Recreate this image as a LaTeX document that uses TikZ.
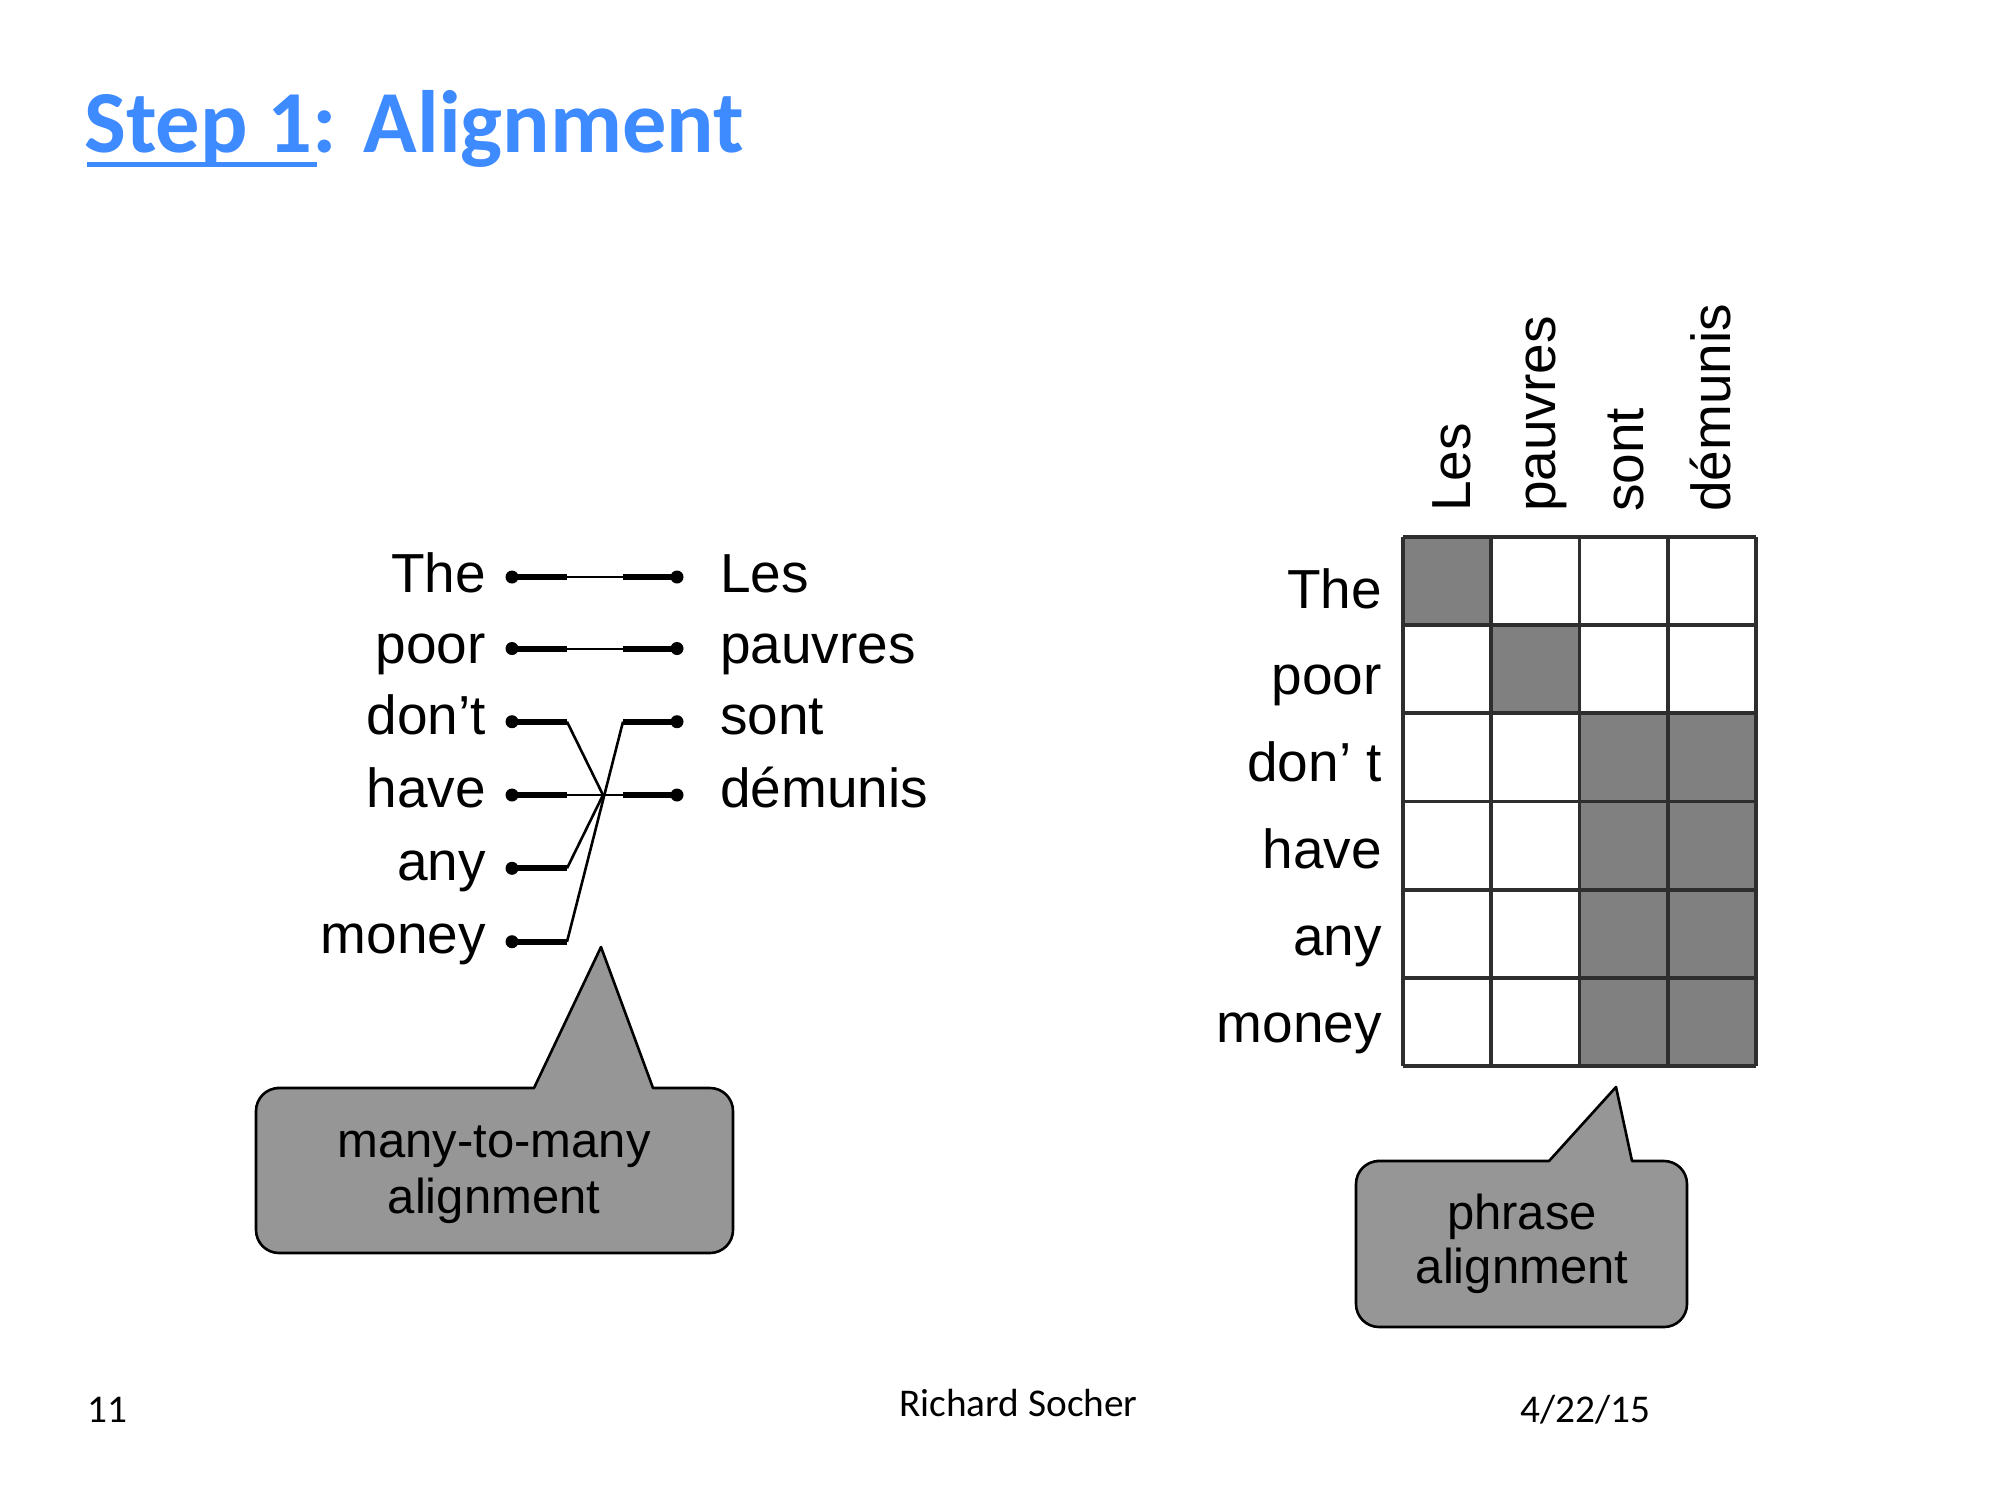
\documentclass[tikz,border=0pt]{standalone}
\usepackage{fontspec}
\usetikzlibrary{calc}
\newfontfamily\arialf{Liberation Sans}
\newfontfamily\calibrif{Carlito}
\definecolor{titleblue}{RGB}{62,138,255}
\definecolor{cellgray}{RGB}{128,128,128}
\definecolor{bubblegray}{RGB}{150,150,150}
\tikzset{
  word/.style={inner sep=0pt, font=\arialf\fontsize{55}{60}\selectfont},
  bubbletext/.style={inner sep=0pt, anchor=base, font=\arialf\fontsize{49}{56}\selectfont},
  footer/.style={inner sep=0pt, anchor=base west, font=\calibrif\fontsize{39.3}{48}\selectfont},
  thickseg/.style={line width=6pt},
  thinseg/.style={line width=2pt},
  diagseg/.style={line width=2.6pt},
  gridline/.style={line width=3.8pt, black!82},
  bubble/.style={fill=bubblegray, draw=black, line width=2.6pt, line join=round},
}
\begin{document}
\begin{tikzpicture}[x=1pt,y=-1pt]
\useasboundingbox (0,0) rectangle (2000,1500);
\fill[white] (0,0) rectangle (2000,1500);

% title
\node[anchor=base west, inner sep=0pt, text=titleblue,
      font=\calibrif\bfseries\fontsize{88.5}{100}\selectfont] (title) at (84,152) {Step 1: Alignment};
\draw[titleblue, line width=5pt] (87,164.5) -- (317,164.5);

% ---------- left: word alignment ----------
\coordinate (L1) at (512,577);
\coordinate (L2) at (512,648.5);
\coordinate (L3) at (512,721.7);
\coordinate (L4) at (512,795);
\coordinate (L5) at (512,868.3);
\coordinate (L6) at (512,941.7);
\coordinate (R1) at (677,577);
\coordinate (R2) at (677,648.5);
\coordinate (R3) at (677,721.7);
\coordinate (R4) at (677,795);
\coordinate (X) at (603,795);

\node[word, anchor=base east] (eThe)   at (486,592) {The};
\node[word, anchor=base east] (ePoor)  at (486,663) {poor};
\node[word, anchor=base east] (eDont)  at (486,734) {don’t};
\node[word, anchor=base east] (eHave)  at (486,807) {have};
\node[word, anchor=base east] (eAny)   at (486,880) {any};
\node[word, anchor=base east] (eMoney) at (486,953) {money};
\node[word, anchor=base west] (fLes)   at (720,592) {Les};
\node[word, anchor=base west] (fPauv)  at (720,663) {pauvres};
\node[word, anchor=base west] (fSont)  at (720,734) {sont};
\node[word, anchor=base west] (fDem)   at (720,807) {démunis};

\foreach \p in {L1,L2,L3,L4,L5,L6} {
  \draw[thickseg] (\p) -- ($(\p)+(55,0)$);
  \fill (\p) circle[radius=6.5pt];
}
\foreach \p in {R1,R2,R3,R4} {
  \draw[thickseg] (\p) -- ($(\p)+(-54,0)$);
  \fill (\p) circle[radius=6.5pt];
}
\draw[thinseg] ($(L1)+(55,0)$) -- ($(R1)+(-54,0)$);
\draw[thinseg] ($(L2)+(55,0)$) -- ($(R2)+(-54,0)$);
\draw[thinseg] ($(L4)+(55,0)$) -- ($(R4)+(-54,0)$);
\draw[diagseg] ($(L3)+(55,0)$) -- (X);
\draw[diagseg] ($(L5)+(55,0)$) -- (X);
\draw[diagseg] ($(L6)+(55,0)$) -- ($(R3)+(-54,0)$);

% left bubble
\draw[bubble] (601,947) -- (653,1088) -- (700,1088) [rounded corners=23pt]
  -- (733,1088) -- (733,1253) -- (256,1253) -- (256,1088) -- (300,1088)
  [sharp corners] -- (534,1088) -- cycle;
\node[bubbletext] (b1a) at (494,1157) {many-to-many};
\node[bubbletext] (b1b) at (494,1213) {alignment};

% ---------- right: phrase alignment grid ----------
\fill[cellgray] (1403,537) rectangle (1491.25,625.17);
\fill[cellgray] (1491.25,625.17) rectangle (1579.5,713.33);
\fill[cellgray] (1579.5,713.33) rectangle (1756,1066);
\foreach \i in {0,...,4} \draw[gridline] ({1403+\i*88.25},537) -- ({1403+\i*88.25},1066);
\foreach \j in {0,...,6} \draw[gridline] (1403,{537+\j*88.17}) -- (1756,{537+\j*88.17});

\node[word, anchor=base west, rotate=90] (cLes)  at (1470,512) {Les};
\node[word, anchor=base west, rotate=90] (cPauv) at (1555,512) {pauvres};
\node[word, anchor=base west, rotate=90] (cSont) at (1643,512) {sont};
\node[word, anchor=base west, rotate=90] (cDem)  at (1730,512) {démunis};

\node[word, anchor=base east] (rThe)   at (1382,608) {The};
\node[word, anchor=base east] (rPoor)  at (1382,694.8) {poor};
\node[word, anchor=base east] (rDont)  at (1382,781.6) {don’ t};
\node[word, anchor=base east] (rHave)  at (1382,868.4) {have};
\node[word, anchor=base east] (rAny)   at (1382,955.2) {any};
\node[word, anchor=base east] (rMoney) at (1382,1042) {money};

% right bubble
\draw[bubble] (1616,1087) -- (1632,1161) -- (1660,1161) [rounded corners=23pt]
  -- (1687,1161) -- (1687,1327) -- (1356,1327) -- (1356,1161) -- (1400,1161)
  [sharp corners] -- (1549,1161) -- cycle;
\node[bubbletext] (b2a) at (1522,1229) {phrase};
\node[bubbletext] (b2b) at (1522,1283) {alignment};

% footer
\node[footer] (fnum)  at (87,1422) {11};
\node[footer] (fauth) at (899,1416) {Richard Socher};
\node[footer] (fdate) at (1520,1422) {4/22/15};
\end{tikzpicture}
\end{document}
